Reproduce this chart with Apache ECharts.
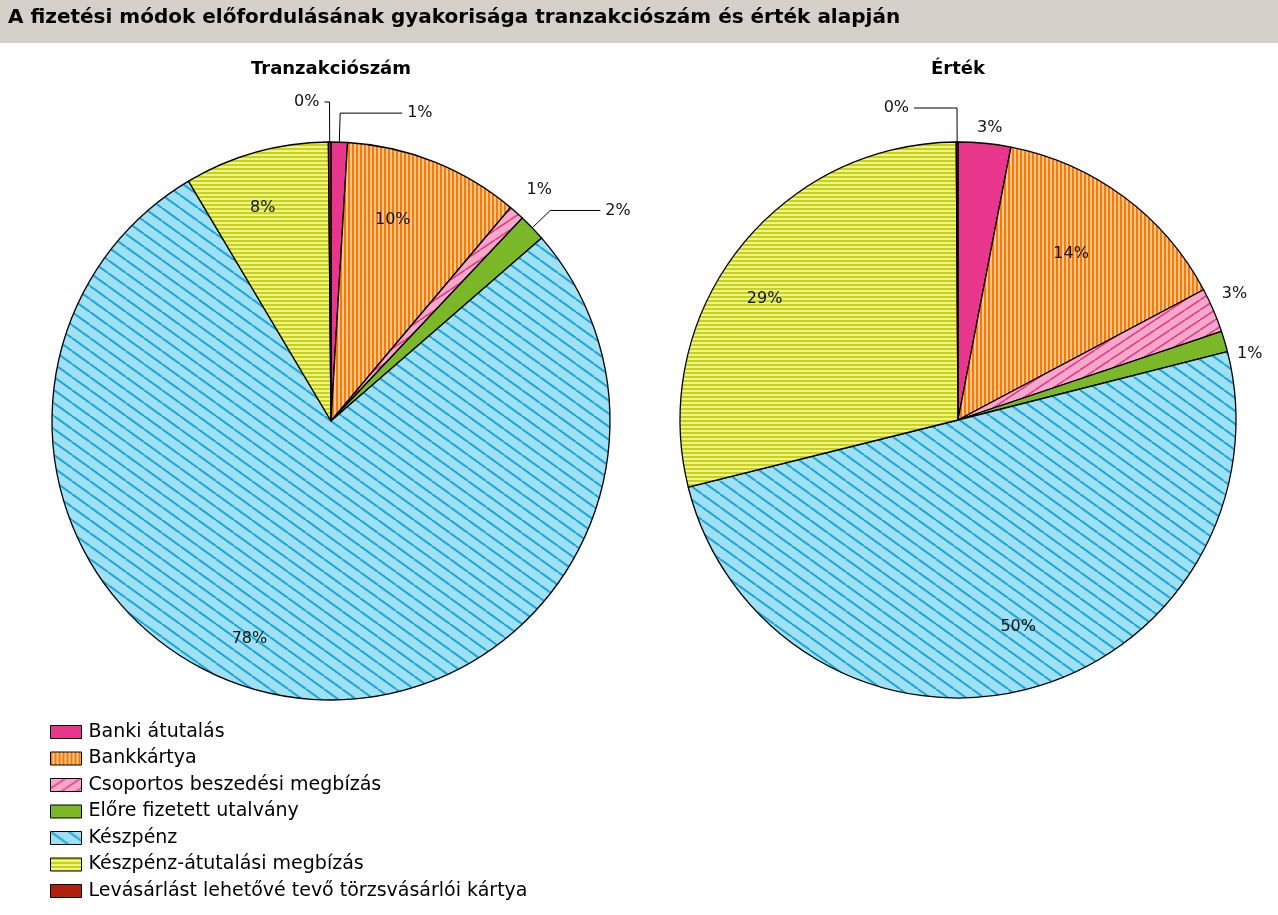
<!DOCTYPE html>
<html><head><meta charset="utf-8">
<script src="https://cdn.jsdelivr.net/npm/echarts@6/dist/echarts.min.js"></script>
<style>html,body{margin:0;padding:0;background:#fff}#c{width:1278px;height:915px}</style>
</head><body><div id="c"></div>
<script>
// ---------- DATA ----------
const chartTitle = 'A fizetési módok előfordulásának gyakorisága tranzakciószám és érték alapján';
const pieTitles = ['Tranzakciószám', 'Érték'];
const categories = ['Banki átutalás', 'Bankkártya', 'Csoportos beszedési megbízás', 'Előre fizetett utalvány', 'Készpénz', 'Készpénz-átutalási megbízás', 'Levásárlást lehetővé tevő törzsvásárlói kártya'];
const tranzakcioszam = [0.95, 10.2, 0.9, 1.6, 78.0, 8.4, 0.15];
const ertek = [3.05, 14.2, 2.6, 1.2, 50.1, 28.8, 0.1];

// ---------- STYLE ----------
const FONT = 'DejaVu Sans';
function makePattern(w, h, bg, fn) {
  const c = document.createElement('canvas'); c.width = w; c.height = h;
  const g = c.getContext('2d'); g.fillStyle = bg; g.fillRect(0, 0, w, h); fn(g, w, h);
  return { image: c, repeat: 'repeat' };
}
const colors = [
  '#E7368B',
  makePattern(4, 4, '#F47C00', g => { g.fillStyle = '#F9C490'; g.fillRect(2, 0, 2, 4); }),
  makePattern(15, 10, '#F6A8CB', (g, w, h) => { g.strokeStyle = '#E6398A'; g.lineWidth = 1.6; for (let k = -1; k <= 1; k++) { g.beginPath(); g.moveTo(k * w, h); g.lineTo(k * w + w, 0); g.stroke(); } }),
  '#7BB828',
  makePattern(18, 13, '#9FE0F2', (g, w, h) => { g.strokeStyle = '#18A6DD'; g.lineWidth = 2; for (let k = -1; k <= 1; k++) { g.beginPath(); g.moveTo(k * w, 0); g.lineTo(k * w + w, h); g.stroke(); } }),
  makePattern(4, 4, '#C9D500', g => { g.fillStyle = '#EEF09C'; g.fillRect(0, 2, 4, 2); }),
  '#B0200A'
];
// label placement styles per slice (null = inside label)
const leftOut = [
  { line: true, len: 29, len2: 62 },
  null,
  { line: false, len: 30, len2: 0, dx: -15, dy: 0 },
  { line: true, len: 25, len2: 50 },
  null, null,
  { line: true, len: 40, len2: 5 }
];
const leftIn = [null, { dx: -21, dy: 6 }, null, null, { dx: -46, dy: -3 }, { dx: -8, dy: 2 }, null];
const rightOut = [
  { line: false, len: 15, len2: 0, dx: -14, dy: 0 },
  null,
  { line: false, len: 20, len2: 0, dx: -15, dy: -9 },
  { line: false, len: 15, len2: 0, dx: -7, dy: 17 },
  null, null,
  { line: true, len: 34, len2: 43 }
];
const rightIn = [null, { dx: -19, dy: 12 }, null, null, { dx: 6, dy: -8 }, { dx: -18, dy: 15 }, null];

const labelText = { fontFamily: FONT, fontSize: 16, color: '#111' };
const fmt = p => Math.round(p.percent) + '%';

function mainSeries(values, center, R, lab) {
  return {
    type: 'pie', center: center, radius: [0, R], startAngle: 90, clockwise: true,
    avoidLabelOverlap: false, animation: false, emphasis: { disabled: true },
    itemStyle: { borderColor: '#000', borderWidth: 1.3 },
    label: Object.assign({ show: false, formatter: fmt }, labelText),
    labelLine: { show: false },
    data: values.map((v, i) => {
      const item = { value: v, name: categories[i], itemStyle: { color: colors[i] } };
      const L = lab[i];
      if (L) {
        item.label = { show: true, position: 'outside', distanceToLabelLine: 5 };
        item.labelLine = { show: L.line, length: L.len, length2: L.len2, smooth: false, lineStyle: { color: '#000', width: 1 } };
      }
      return item;
    }),
    labelLayout: p => { const L = lab[p.dataIndex]; return (L && L.dx != null) ? { dx: L.dx, dy: L.dy } : {}; }
  };
}
function ringSeries(values, center, r0, R, lab) {
  return {
    type: 'pie', center: center, radius: [r0, R], startAngle: 90, clockwise: true,
    silent: true, animation: false, emphasis: { disabled: true }, avoidLabelOverlap: false,
    itemStyle: { color: 'rgba(0,0,0,0)', borderWidth: 0 },
    label: Object.assign({ show: false, position: 'inside', formatter: fmt }, labelText),
    labelLine: { show: false },
    data: values.map((v, i) => ({ value: v, name: categories[i], label: { show: !!lab[i] } })),
    labelLayout: p => { const L = lab[p.dataIndex]; return L ? { dx: L.dx, dy: L.dy } : {}; }
  };
}

const chart = echarts.init(document.getElementById('c'), null, { renderer: 'canvas' });
chart.setOption({
  animation: false,
  backgroundColor: '#fff',
  graphic: [{ type: 'rect', left: 0, top: 0, z: 0, shape: { width: 1278, height: 43 }, style: { fill: '#D5D0CA' } }],
  title: [
    { text: chartTitle, left: 8, top: 8, padding: 0, textStyle: { fontFamily: FONT, fontSize: 20, fontWeight: 'bold', color: '#000' } },
    { text: pieTitles[0], left: 331, textAlign: 'center', top: 60, padding: 0, textStyle: { fontFamily: FONT, fontSize: 18, fontWeight: 'bold', color: '#000' } },
    { text: pieTitles[1], left: 958, textAlign: 'center', top: 60, padding: 0, textStyle: { fontFamily: FONT, fontSize: 18, fontWeight: 'bold', color: '#000' } }
  ],
  legend: {
    orient: 'vertical', left: 50, top: 722, padding: 0,
    itemWidth: 31, itemHeight: 13, itemGap: 6.5, icon: 'rect', selectedMode: false,
    itemStyle: { borderColor: '#000', borderWidth: 1 },
    textStyle: { fontFamily: FONT, fontSize: 19, color: '#000', lineHeight: 20, padding: [0, 0, 0, 2] },
    data: categories
  },
  series: [
    mainSeries(tranzakcioszam, [331, 421], 279, leftOut),
    mainSeries(ertek, [958, 420], 278, rightOut),
    ringSeries(tranzakcioszam, [331, 421], 162, 279, leftIn),
    ringSeries(ertek, [958, 420], 160, 278, rightIn)
  ]
});
</script>
</body></html>
